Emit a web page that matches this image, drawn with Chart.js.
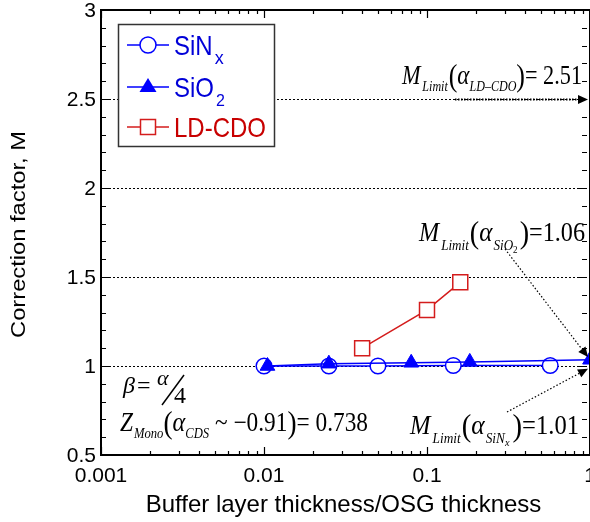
<!DOCTYPE html>
<html>
<head>
<meta charset="utf-8">
<script src="https://cdn.jsdelivr.net/npm/chart.js@4.4.1/dist/chart.umd.min.js"></script>
<style>
  html, body { margin: 0; padding: 0; background: #fff; overflow: hidden; }
  canvas { display: block; }
</style>
</head>
<body>
<canvas id="chart" width="590" height="522" style="width:590px;height:522px"></canvas>
<script>
// data
const xTicks = [0.001, 0.01, 0.1, 1];
const xTickLabels = ["0.001", "0.01", "0.1", "1"];
const yTicks = [0.5, 1, 1.5, 2, 2.5, 3];
const yTickLabels = ["0.5", "1", "1.5", "2", "2.5", "3"];
const gridValues = [1, 1.5, 2, 2.5];

const sinxX = [0.01, 0.025, 0.05, 0.145, 0.57];
const sinxY = [1.0, 1.0, 1.0, 1.003, 1.003];
const sio2X = [0.0105, 0.025, 0.08, 0.183, 1.0];
const sio2Y = [1.0, 1.013, 1.018, 1.023, 1.035];
const cdoX = [0.04, 0.1, 0.16];
const cdoY = [1.1, 1.315, 1.47];

// where the limit arrows point (x = 1)
const limitTips = { cdo: 2.5, sio2: 1.05, sinx: 0.985 };

const BLUE = "#0000ff";
const BLUE_TXT = "#0000d8";
const RED = "#d41c1c";
const RED_TXT = "#c80000";
const SANS = '"Liberation Sans", Arial, sans-serif';
const SERIF = '"Liberation Serif", "Times New Roman", serif';

const pts = (xs, ys) => xs.map((x, i) => ({ x: x, y: ys[i] }));

// text made of pieces (subscripts etc.)
function rich(ctx, x, y, parts, draw) {
  for (const p of parts) {
    ctx.font = p.f;
    if (draw) ctx.fillText(p.t, x, y + (p.dy || 0));
    x += ctx.measureText(p.t).width + (p.gap || 0);
  }
  return x;
}

// squeeze a formula between x0 and x1, stretched vertically by sy
function formula(ctx, x0, x1, base, sy, parts) {
  const w = rich(ctx, 0, 0, parts, false);
  ctx.save();
  ctx.translate(x0, base);
  ctx.scale((x1 - x0) / w, sy);
  rich(ctx, 0, 0, parts, true);
  ctx.restore();
}

function arrow(ctx, x0, y0, x1, y1, width, dash) {
  const ang = Math.atan2(y1 - y0, x1 - x0);
  const len = 10, half = 4.5;
  const bx = x1 - Math.cos(ang) * len, by = y1 - Math.sin(ang) * len;
  ctx.save();
  ctx.strokeStyle = "#000";
  ctx.lineWidth = width;
  ctx.setLineDash(dash);
  ctx.beginPath();
  ctx.moveTo(x0, y0);
  ctx.lineTo(bx, by);
  ctx.stroke();
  ctx.setLineDash([]);
  ctx.fillStyle = "#000";
  ctx.beginPath();
  ctx.moveTo(x1, y1);
  ctx.lineTo(bx - Math.sin(ang) * half, by + Math.cos(ang) * half);
  ctx.lineTo(bx + Math.sin(ang) * half, by - Math.cos(ang) * half);
  ctx.closePath();
  ctx.fill();
  ctx.restore();
}

const gridPlugin = {
  id: "dottedGrid",
  beforeDatasetsDraw(chart) {
    const { ctx, chartArea: a, scales: { y } } = chart;
    ctx.save();
    ctx.strokeStyle = "#000";
    ctx.lineWidth = 1;
    ctx.setLineDash([2, 2]);
    gridValues.forEach(v => {
      const py = Math.round(y.getPixelForValue(v)) + 0.5;
      ctx.beginPath();
      ctx.moveTo(a.left, py);
      ctx.lineTo(a.right, py);
      ctx.stroke();
    });
    ctx.restore();
  }
};

const framePlugin = {
  id: "frame",
  afterDatasetsDraw(chart) {
    const { ctx, chartArea: a, scales: { x, y } } = chart;
    ctx.save();

    // ticks pointing inwards
    ctx.strokeStyle = "#000";
    ctx.lineWidth = 1.2;
    for (let d = -3; d < 0; d++) {
      for (let m = 1; m <= 9; m++) {
        const v = m * Math.pow(10, d);
        const px = Math.round(x.getPixelForValue(v)) + 0.5;
        const L = m === 1 ? 8 : 4;
        ctx.beginPath();
        ctx.moveTo(px, a.bottom); ctx.lineTo(px, a.bottom - L);
        ctx.moveTo(px, a.top); ctx.lineTo(px, a.top + L);
        ctx.stroke();
      }
    }
    for (let i = 5; i <= 30; i++) {
      const py = Math.round(y.getPixelForValue(i / 10)) + 0.5;
      const L = i % 5 === 0 ? 9 : 5;
      ctx.beginPath();
      ctx.moveTo(a.left, py); ctx.lineTo(a.left + L, py);
      ctx.moveTo(a.right - 3, py); ctx.lineTo(a.right - 3 - L, py);
      ctx.stroke();
    }

    // box
    ctx.lineWidth = 2;
    ctx.strokeRect(a.left, a.top, a.right - a.left, a.bottom - a.top);

    // tick labels
    ctx.fillStyle = "#000";
    ctx.font = "21px " + SANS;
    ctx.textAlign = "right";
    ctx.textBaseline = "middle";
    yTicks.forEach((v, i) => ctx.fillText(yTickLabels[i], a.left - 5, y.getPixelForValue(v) + 1));
    ctx.textAlign = "center";
    ctx.textBaseline = "alphabetic";
    xTicks.forEach((v, i) => ctx.fillText(xTickLabels[i], x.getPixelForValue(v), a.bottom + 27));

    // axis titles
    ctx.font = "24px " + SANS;
    ctx.fillText("Buffer layer thickness/OSG thickness", (a.left + a.right) / 2 - 2, a.bottom + 57);
    ctx.save();
    ctx.translate(25, (a.top + a.bottom) / 2 + 2);
    ctx.rotate(-Math.PI / 2);
    ctx.font = "20px " + SANS;
    const tw = ctx.measureText("Correction factor, M").width;
    ctx.scale(207 / tw, 1);
    ctx.fillText("Correction factor, M", 0, 0);
    ctx.restore();

    // legend
    const lx = 118, ly = 24, lw = 156, lh = 122;
    ctx.fillStyle = "#fff";
    ctx.fillRect(lx, ly, lw, lh);
    ctx.strokeStyle = "#333";
    ctx.lineWidth = 1.5;
    ctx.strokeRect(lx + 0.5, ly + 0.5, lw, lh);
    const rows = [
      { cy: 45, color: BLUE, txt: BLUE_TXT, style: "circle", main: "SiN", sub: "x" },
      { cy: 87, color: BLUE, txt: BLUE_TXT, style: "triangle", main: "SiO", sub: "2" },
      { cy: 127, color: RED, txt: RED_TXT, style: "rect", main: "LD-CDO", sub: "" }
    ];
    rows.forEach(r => {
      ctx.strokeStyle = r.color;
      ctx.lineWidth = 1.5;
      ctx.beginPath();
      ctx.moveTo(127, r.cy); ctx.lineTo(169, r.cy);
      ctx.stroke();
      ctx.fillStyle = r.style === "triangle" ? r.color : "#fff";
      if (r.style === "circle") {
        ctx.beginPath(); ctx.arc(148, r.cy, 8, 0, Math.PI * 2); ctx.fill(); ctx.stroke();
      } else if (r.style === "triangle") {
        ctx.beginPath();
        ctx.moveTo(148, r.cy - 9); ctx.lineTo(156.5, r.cy + 5); ctx.lineTo(139.5, r.cy + 5);
        ctx.closePath(); ctx.fill();
      } else {
        ctx.fillRect(140.5, r.cy - 7.5, 15, 15); ctx.strokeRect(140.5, r.cy - 7.5, 15, 15);
      }
      ctx.fillStyle = r.txt;
      ctx.textAlign = "left";
      ctx.save();
      ctx.translate(174, r.cy + 10);
      ctx.scale(1, 1.18);
      ctx.font = "24px " + SANS;
      ctx.fillText(r.main, 0, 0);
      const w = ctx.measureText(r.main).width;
      ctx.restore();
      if (r.sub) {
        ctx.font = (r.sub === "x" ? "18px " : "16px ") + SANS;
        ctx.fillText(r.sub, 174 + w + 2, r.cy + 19);
      }
    });

    // annotations
    ctx.fillStyle = "#000";
    ctx.textAlign = "left";
    ctx.textBaseline = "alphabetic";
    const big = "24px " + SERIF, it = "italic 24px " + SERIF, sub = "italic 13px " + SERIF;
    const par = "28px " + SERIF, alpha = "italic 25px " + SERIF;
    formula(ctx, 402, 582, 84, 1.12, [
      { t: "M", f: it, gap: 2 }, { t: "Limit", f: sub, dy: 6, gap: 1 }, { t: "(", f: par, dy: 2 },
      { t: "α", f: alpha }, { t: "LD\u2013CDO", f: sub, dy: 6 }, { t: ")", f: par, dy: 2 },
      { t: "= 2.51", f: big }
    ]);
    formula(ctx, 419, 585, 241, 1.12, [
      { t: "M", f: it, gap: 2 }, { t: "Limit", f: sub, dy: 8, gap: 1 }, { t: "(", f: par, dy: 2 },
      { t: "α", f: alpha, gap: 1 }, { t: "SiO", f: sub, dy: 8 }, { t: "2", f: "9px " + SERIF, dy: 11, gap: 2 },
      { t: ")", f: par, dy: 2 }, { t: "=1.06", f: big }
    ]);
    formula(ctx, 410, 579, 434, 1.12, [
      { t: "M", f: it, gap: 2 }, { t: "Limit", f: sub, dy: 8, gap: 1 }, { t: "(", f: par, dy: 2 },
      { t: "α", f: alpha, gap: 1 }, { t: "SiN", f: sub, dy: 8 }, { t: "x", f: "italic 10px " + SERIF, dy: 11, gap: 3 },
      { t: ")", f: par, dy: 2 }, { t: "=1.01", f: big }
    ]);
    // beta = alpha / 4
    rich(ctx, 123, 393, [{ t: "β", f: it, gap: 2 }, { t: "=", f: big }], true);
    ctx.font = "italic 22px " + SERIF;
    ctx.fillText("α", 157, 385);
    ctx.font = big;
    ctx.fillText("4", 174, 403);
    ctx.lineWidth = 1.5;
    ctx.strokeStyle = "#000";
    ctx.beginPath(); ctx.moveTo(162, 405); ctx.lineTo(184, 375); ctx.stroke();
    formula(ctx, 120, 368, 431, 1.12, [
      { t: "Z", f: it, gap: 1 }, { t: "Mono", f: sub, dy: 6 }, { t: "(", f: par, dy: 2 },
      { t: "α", f: alpha }, { t: "CDS", f: sub, dy: 6 }, { t: " ~ \u22120.91", f: big },
      { t: ")", f: par, dy: 2 }, { t: "= 0.738", f: big }
    ]);

    // limit arrows
    const xr = x.getPixelForValue(1) - 2;
    arrow(ctx, 455, y.getPixelForValue(limitTips.cdo) + 0.5, xr, y.getPixelForValue(limitTips.cdo) + 0.5, 2, [1.5, 1.5]);
    arrow(ctx, 505, 249, xr, y.getPixelForValue(limitTips.sio2), 1.2, [1.5, 2]);
    arrow(ctx, 507, 412, xr, y.getPixelForValue(limitTips.sinx), 1.2, [1.5, 2]);

    ctx.restore();
  }
};

new Chart(document.getElementById("chart"), {
  type: "scatter",
  data: {
    datasets: [
      {
        label: "LD-CDO", data: pts(cdoX, cdoY), showLine: true, order: 0,
        borderColor: RED, borderWidth: 1.5, pointStyle: "rect", pointRadius: 10.6,
        pointBackgroundColor: "#fff", pointBorderColor: RED, pointBorderWidth: 1.5, clip: false
      },
      {
        label: "SiO2", data: pts(sio2X, sio2Y), showLine: true, order: 1,
        borderColor: BLUE, borderWidth: 1.5, pointStyle: "triangle", pointRadius: 8.5,
        pointBackgroundColor: BLUE, pointBorderColor: BLUE, pointBorderWidth: 1, clip: false
      },
      {
        label: "SiNx", data: pts(sinxX, sinxY), showLine: true, order: 2,
        borderColor: BLUE, borderWidth: 1.5, pointStyle: "circle", pointRadius: 7.8,
        pointBackgroundColor: "#fff", pointBorderColor: BLUE, pointBorderWidth: 1.5, clip: false
      }
    ]
  },
  options: {
    responsive: false,
    animation: false,
    // the frame runs just past the right edge, as in the source figure
    layout: { autoPadding: false, padding: { left: 101, top: 10, right: -1, bottom: 67 } },
    plugins: { legend: { display: false }, tooltip: { enabled: false } },
    scales: {
      x: {
        type: "logarithmic", min: 0.001, max: 1,
        ticks: { display: false }, grid: { display: false, drawTicks: false }, border: { display: false }
      },
      y: {
        type: "linear", min: 0.5, max: 3,
        ticks: { display: false }, grid: { display: false, drawTicks: false }, border: { display: false }
      }
    }
  },
  plugins: [gridPlugin, framePlugin]
});
</script>
</body>
</html>
